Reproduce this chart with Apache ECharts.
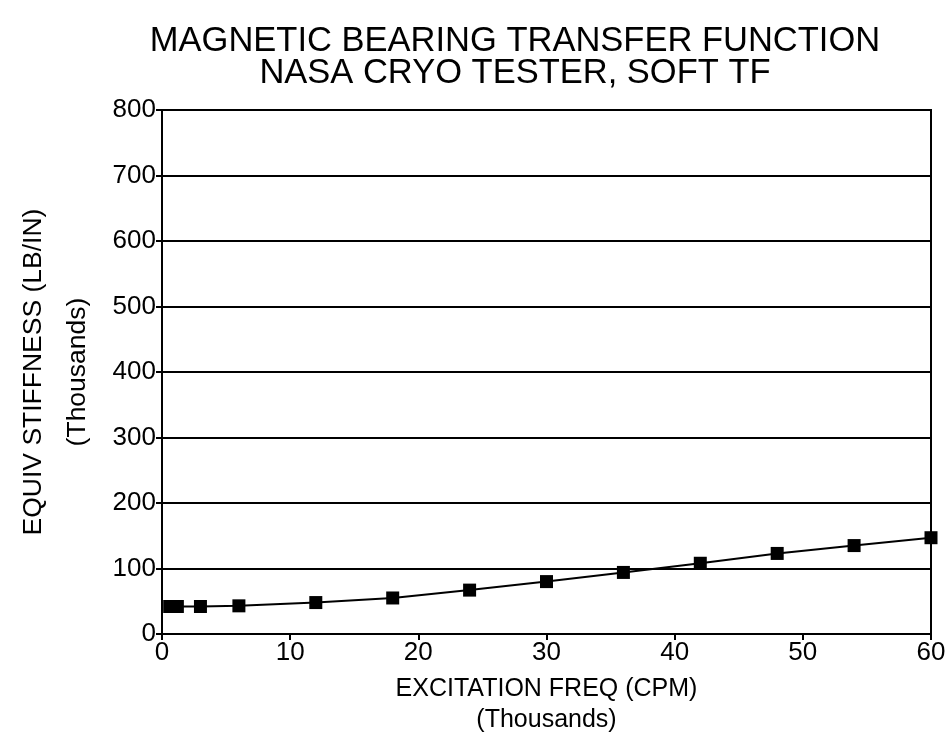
<!DOCTYPE html>
<html>
<head>
<meta charset="utf-8">
<script src="https://cdn.jsdelivr.net/npm/echarts@6/dist/echarts.min.js"></script>
<style>
html,body{margin:0;padding:0;background:#fff;}
#chart{width:946px;height:742px;}
</style>
</head>
<body>
<div id="chart"></div>
<script>
// Data (frequency in thousands of CPM, stiffness in thousands of LB/IN)
const freq = [0.6, 1.2, 3, 6, 12, 18, 24, 30, 36, 42, 48, 54, 60];
const stiffness = [42, 42, 42, 43, 48, 55, 67, 80, 94, 108, 123, 135, 147];
const titleText = 'MAGNETIC BEARING TRANSFER FUNCTION\nNASA CRYO TESTER, SOFT TF';
const xName = 'EXCITATION FREQ (CPM)\n(Thousands)';
const yName = 'EQUIV STIFFNESS (LB/IN)\n(Thousands)';

const FONT = '"Liberation Sans", Arial, Helvetica, sans-serif';
const chart = echarts.init(document.getElementById('chart'), null, {renderer: 'canvas'});
chart.setOption({
  backgroundColor: '#ffffff',
  animation: false,
  title: {
    text: titleText,
    left: 510,
    top: 20,
    textAlign: 'center',
    textStyle: {fontFamily: FONT, fontSize: 34.5, fontWeight: 'normal', color: '#000', lineHeight: 32, align: 'center'}
  },
  grid: {left: 162, right: 15, top: 110, bottom: 108, show: true, borderColor: '#000', borderWidth: 2,
         backgroundColor: 'transparent', containLabel: false, outerBoundsMode: 'none'},
  xAxis: {
    type: 'value', min: 0, max: 60, interval: 10,
    name: xName, nameLocation: 'middle', nameGap: 40,
    nameTextStyle: {fontFamily: FONT, fontSize: 25, color: '#000', lineHeight: 31, align: 'center'},
    axisLine: {show: true, lineStyle: {color: '#000', width: 2}},
    axisTick: {show: true, inside: false, length: 6, lineStyle: {color: '#000', width: 2}},
    axisLabel: {fontFamily: FONT, fontSize: 26, color: '#000', margin: 6},
    splitLine: {show: false}
  },
  yAxis: {
    type: 'value', min: 0, max: 800, interval: 100,
    name: yName, nameLocation: 'middle', nameGap: 62, nameRotate: 90,
    nameTextStyle: {fontFamily: FONT, fontSize: 26.5, color: '#000', lineHeight: 44, align: 'center'},
    axisLine: {show: true, lineStyle: {color: '#000', width: 2}},
    axisTick: {show: true, inside: false, length: 6, lineStyle: {color: '#000', width: 2}},
    axisLabel: {fontFamily: FONT, fontSize: 26, color: '#000', margin: 6},
    splitLine: {show: true, lineStyle: {color: '#000', width: 2}}
  },
  series: [{
    type: 'line',
    data: freq.map((f, i) => [f, stiffness[i]]),
    symbol: 'rect', symbolSize: 13,
    itemStyle: {color: '#000'},
    lineStyle: {color: '#000', width: 2},
    z: 5
  }]
});
</script>
</body>
</html>
